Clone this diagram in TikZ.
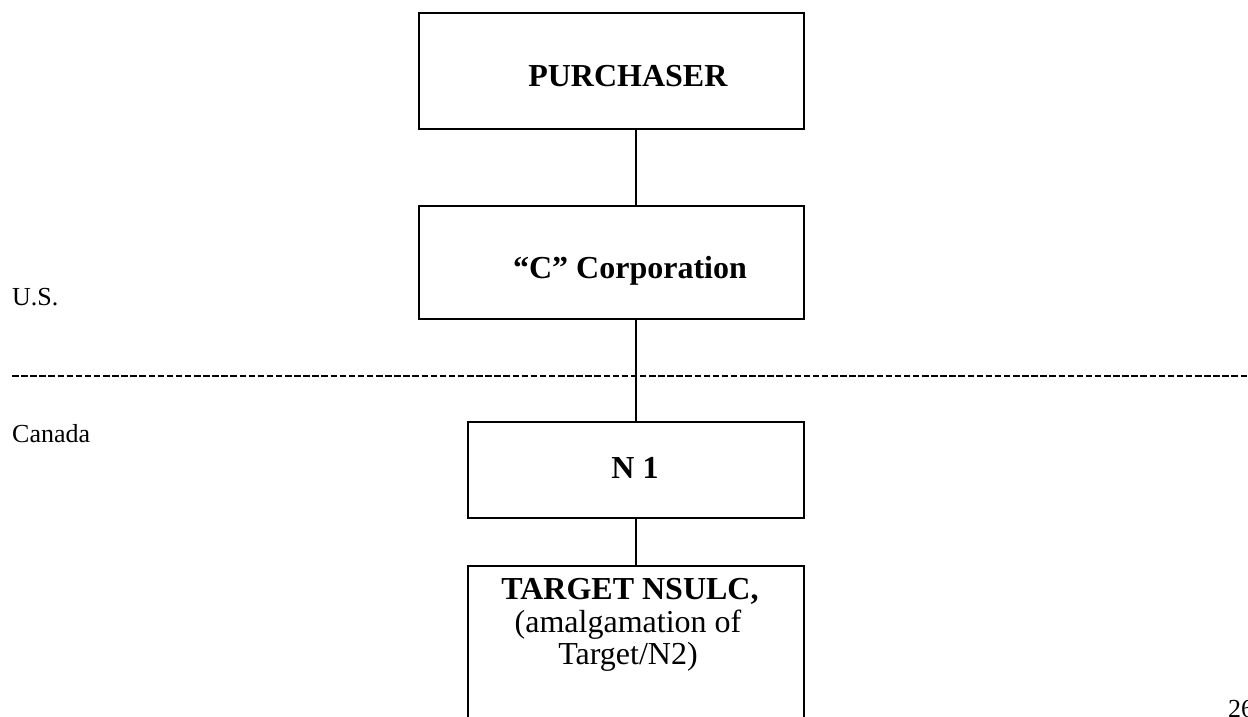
\documentclass[tikz,border=0pt]{standalone}
\usepackage{fontspec}
\setmainfont{Liberation Serif}
\begin{document}
\begin{tikzpicture}[x=1pt,y=-1pt,
  box/.style={draw, line width=2pt, inner sep=0pt, anchor=north west},
  conn/.style={line width=2pt},
  boxtext/.style={inner sep=0pt, anchor=base, font=\fontsize{32}{33}\selectfont},
  sidetext/.style={inner sep=0pt, anchor=base west, font=\fontsize{26}{30}\selectfont},
  divider/.style={line width=2pt, dash pattern=on 6.5pt off 2.6pt}]
\useasboundingbox (0,0) rectangle (1248,717);
\clip (0,0) rectangle (1248,717);
% boxes
\node[box, minimum width=385pt, minimum height=116pt] (pur) at (418,12) {};
\node[box, minimum width=385pt, minimum height=113pt] (ccorp) at (418,205) {};
\node[box, minimum width=336pt, minimum height=96pt] (n1) at (467,421) {};
\node[box, minimum width=336pt, minimum height=200pt] (tgt) at (467,565) {};
% box texts
\node[boxtext] (tpur) at (628,87) {\textbf{PURCHASER}};
\node[boxtext] (tccorp) at (630,278) {\textbf{“C” Corporation}};
\node[boxtext] (tn1) at (635,478) {\textbf{N 1}};
\node[boxtext] (ttgt1) at (630,599) {\textbf{TARGET NSULC,}};
\node[boxtext] (ttgt2) at (628,632) {(amalgamation of};
\node[boxtext] (ttgt3) at (628,664) {Target/N2)};
% connectors
\draw[conn] (pur.south -| n1.north) -- (ccorp.north -| n1.north);
\draw[conn] (ccorp.south -| n1.north) -- (n1.north);
\draw[conn] (n1.south) -- (tgt.north -| n1.south);
% border line and side labels
\coordinate (dl) at (12,376);
\coordinate (dr) at (1252,376);
\draw[divider] (dl) -- (dr);
\node[sidetext] (us) at (12,305) {U.S.};
\node[sidetext] (ca) at (12,442) {Canada};
\node[sidetext] (pg) at (1228,717) {26};
\end{tikzpicture}
\end{document}
